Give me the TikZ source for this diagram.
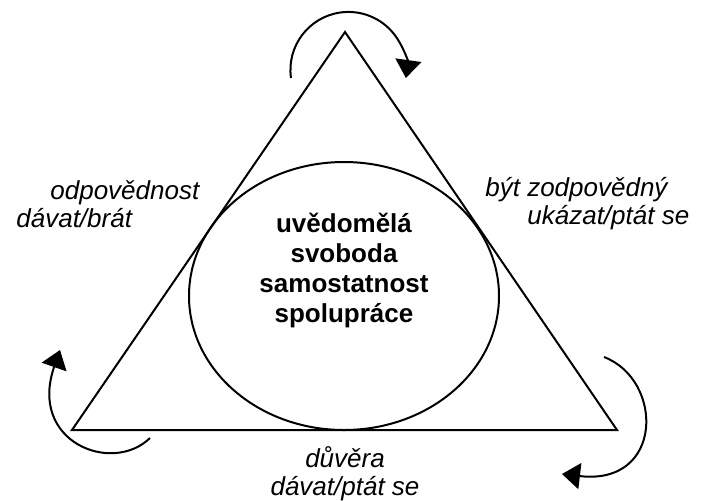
\documentclass[tikz,border=0pt]{standalone}
\usepackage{fontspec}
\setmainfont{Liberation Sans}
\usetikzlibrary{arrows.meta}

\tikzset{
  edge/.style={line width=1pt, line join=miter},
  turn/.style={line width=1pt, -{Triangle[width=13pt,length=9pt]}},
  note/.style={font=\itshape\fontsize{13}{14}\selectfont, inner sep=0pt},
  core/.style={font=\bfseries\fontsize{13}{15}\selectfont, align=center, inner sep=0pt}
}

\begin{document}
\begin{tikzpicture}[x=0.5pt, y=-0.5pt]
  \useasboundingbox (0,0) rectangle (703,500);
  % corners of the triangle
  \coordinate (apex) at (345,32);
  \coordinate (west) at (72,430);
  \coordinate (east) at (617,430);
  \draw[edge] (apex) -- (west) -- (east) -- cycle;
  % the ellipse in the middle
  \coordinate (hub) at (344,296);
  \draw[edge] (hub) ellipse [x radius=155, y radius=134];
  \node (core) [core] at (344,270) {uvědomělá\\svoboda\\samostatnost\\spolupráce};
  % labels of the three sides
  \node (resp) [note, align=left, anchor=west] at (16,204)
    {\hspace*{17pt}odpovědnost\\dávat/brát};
  \node (duty) [note, align=left, anchor=west] at (485,204)
    {být zodpovědný\\\hspace*{21pt}ukázat/ptát se};
  \node (trust) [note, align=center] at (345,474) {důvěra\\dávat/ptát se};
  % turning arrows at the corners
  \coordinate (topstart) at (291,78);
  \coordinate (lstart) at (150,438);
  \coordinate (lend) at (60,350);
  \coordinate (rstart) at (604,357);
  \coordinate (rend) at (562,474);
  \draw[turn] (topstart) arc [start angle=172, end angle=368, radius=58];
  \draw[turn] (lstart) .. controls (112,475) and (28,442) .. (lend);
  \draw[turn] (rstart) .. controls (664,380) and (664,486) .. (rend);
\end{tikzpicture}
\end{document}
